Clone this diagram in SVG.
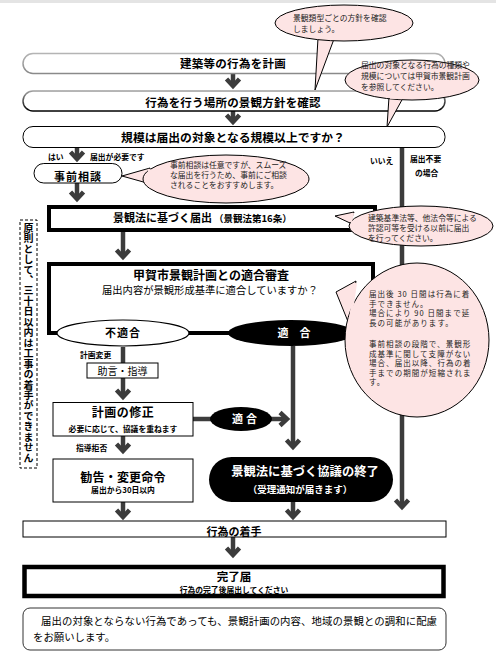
<svg xmlns="http://www.w3.org/2000/svg" width="496" height="655" viewBox="0 0 496 655">
<defs>
<style>
text{font-family:"Noto Sans CJK JP","Liberation Sans",sans-serif;fill:#000}
.b{font-weight:700}
.call{fill:#fde4e4;stroke:#000;stroke-width:1}
.ct{font-size:7.8px;fill:#222}
.cp{font-size:7.5px;fill:#222;letter-spacing:1.05px}
.sm{font-size:7.8px;font-weight:700}
.ln{stroke:#3c3c3c;stroke-width:4.5;fill:none}
.arr{stroke:#3c3c3c;stroke-width:4.5;fill:none;marker-end:url(#ah)}
.box{fill:#fff;stroke:#000;stroke-width:1}
.thick{fill:#fff;stroke:#000;stroke-width:4}
.w{fill:#fff}
.c{text-anchor:middle}
</style>
<linearGradient id="g1" x1="0" y1="0" x2="0" y2="1"><stop offset="0" stop-color="#b4b4b4"/><stop offset="1" stop-color="#8a8a8a"/></linearGradient>
<linearGradient id="g2" x1="0" y1="0" x2="0" y2="1"><stop offset="0" stop-color="#a0a0a0"/><stop offset="1" stop-color="#000"/></linearGradient>
<marker id="ah" markerUnits="userSpaceOnUse" markerWidth="18" markerHeight="18" viewBox="-9 -9 18 18" refX="0" refY="0" orient="auto">
<path d="M-7,-6.5 L0,0 L-7,6.5" fill="none" stroke="#3c3c3c" stroke-width="4.5" stroke-linejoin="miter"/>
</marker>
</defs>
<rect x="0" y="0" width="496" height="3" fill="#e4e4e4"/>

<g id="connectors">
<line class="arr" x1="233" y1="74" x2="233" y2="86"/>
<line class="arr" x1="233" y1="111" x2="233" y2="122"/>
<line class="arr" x1="77" y1="148" x2="77" y2="159"/>
<line class="arr" x1="77" y1="183" x2="77" y2="199"/>
<line class="arr" x1="123" y1="232" x2="123" y2="257"/>
<line class="arr" x1="123" y1="347" x2="123" y2="397"/>
<line class="arr" x1="123" y1="436" x2="123" y2="451"/>
<line class="arr" x1="123" y1="502" x2="123" y2="517"/>
<line class="arr" x1="293" y1="346" x2="293" y2="447"/>
<line class="ln" x1="193" y1="419" x2="212" y2="419"/>
<line class="arr" x1="270" y1="419" x2="287" y2="419"/>
<line class="arr" x1="293" y1="502" x2="293" y2="517"/>
<line class="arr" x1="402" y1="147" x2="402" y2="507"/>
<line class="arr" x1="233" y1="537" x2="233" y2="555"/>
</g>

<g id="n-plan">
<rect x="23" y="53.5" width="422" height="20" rx="10" fill="#fff" stroke="url(#g1)" stroke-width="1.5"/>
<text class="b c" x="233" y="67.5" font-size="11.5" letter-spacing="0.3">建築等の行為を計画</text>
</g>
<g id="n-policy">
<rect x="23" y="91" width="422" height="20" rx="10" fill="#fff" stroke="url(#g2)" stroke-width="1.5"/>
<text class="b c" x="233" y="107" font-size="11.5" letter-spacing="0.2">行為を行う場所の景観方針を確認</text>
</g>
<g id="n-scale">
<rect x="23" y="126.5" width="422" height="21" rx="10" class="box" stroke-width="1.2"/>
<text class="b c" x="233" y="141.5" font-size="11.8">規模は届出の対象となる規模以上ですか？</text>
</g>

<g id="c-type">
<path class="call" d="M318,38 L315,90 L334,39 Z"/>
<ellipse class="call" cx="344" cy="23" rx="69" ry="18"/>
<path d="M319,37 L333,38" stroke="#fde4e4" stroke-width="2.5"/>
<text class="ct" x="293" y="20.5" font-size="8.5px">景観類型ごとの方針を確認</text>
<text class="ct" x="293" y="31.5" font-size="8.5px">しましょう。</text>
</g>

<g id="c-target">
<path class="call" d="M389,97 L387,127 L403,98 Z"/>
<ellipse class="call" cx="412" cy="80" rx="67" ry="20"/>
<path d="M390,97.5 L402,98" stroke="#fde4e4" stroke-width="2.5"/>
<text class="ct" x="361" y="68">届出の対象となる行為の種類や</text>
<text class="ct" x="361" y="79">規模については甲賀市景観計画</text>
<text class="ct" x="361" y="90">を参照してください。</text>
</g>

<g id="l-yes">
<text class="sm" x="48" y="160" font-size="7.5px">はい</text>
<text class="sm" x="90" y="160">届出が必要です</text>
</g>
<g id="l-no">
<text class="sm" x="370" y="163.5" font-size="7.5px">いいえ</text>
<text class="sm" x="410" y="162">届出不要</text>
<text class="sm" x="415" y="175.5">の場合</text>
</g>

<g id="n-consult">
<rect x="34" y="163.5" width="88" height="19.5" rx="9.75" class="box"/>
<text class="b c" x="78" y="181" font-size="11" letter-spacing="1">事前相談</text>
</g>
<g id="c-consult">
<path class="call" d="M150,168 L122,176 L147,183 Z"/>
<ellipse class="call" cx="226" cy="179" rx="83" ry="24"/>
<path d="M149.5,169 L147.5,182" stroke="#fde4e4" stroke-width="2.5"/>
<text class="ct" x="170" y="168">事前相談は任意ですが、スムーズ</text>
<text class="ct" x="170" y="178">な届出を行うため、事前にご相談</text>
<text class="ct" x="170" y="188">されることをおすすめします。</text>
</g>

<g id="n-notify">
<rect x="49" y="207" width="326" height="23" class="thick"/>
<text x="113" y="222" font-size="11" class="b">景観法に基づく届出<tspan font-size="9.5" dx="2">（景観法第16条）</tspan></text>
</g>
<g id="c-permit">
<path class="call" d="M354,212 L335,216 L350,223 Z"/>
<ellipse class="call" cx="421" cy="226" rx="72" ry="20"/>
<path d="M353,213 L350.5,222" stroke="#fde4e4" stroke-width="2.5"/>
<text class="ct" x="368" y="221">建築基準法等、他法令等による</text>
<text class="ct" x="368" y="231">許認可等を受ける以前に届出</text>
<text class="ct" x="368" y="241">を行ってください。</text>
</g>

<g id="n-review">
<rect x="49" y="264" width="324" height="69" class="thick"/>
<text class="b c" x="211" y="279.5" font-size="12">甲賀市景観計画との適合審査</text>
<text class="c" x="210" y="294" font-size="10.3">届出内容が景観形成基準に適合していますか？</text>
</g>
<g id="n-ng">
<ellipse cx="123" cy="333" rx="66" ry="13" fill="#fff" stroke="#000" stroke-width="1.2"/>
<text class="b c" x="123" y="337" font-size="11" letter-spacing="1">不適合</text>
</g>
<g id="n-ok">
<ellipse cx="291" cy="333" rx="63" ry="13" fill="#000"/>
<text class="b c w" x="294" y="337" font-size="11">適　合</text>
</g>

<g id="c-period">
<path class="call" d="M356,281 L336,292 L349,324 Z"/>
<ellipse class="call" cx="417" cy="340" rx="72" ry="77"/>
<path d="M355.5,283 L350,322" stroke="#fde4e4" stroke-width="3"/>
<text class="cp" x="369" y="297">届出後 30 日間は行為に着</text>
<text class="cp" x="369" y="306.5">手できません。</text>
<text class="cp" x="369" y="316">場合により 90 日間まで延</text>
<text class="cp" x="369" y="325.5">長の可能があります。</text>
<text class="cp" x="369" y="347">事前相談の段階で、景観形</text>
<text class="cp" x="369" y="356.5">成基準に関して支障がない</text>
<text class="cp" x="369" y="366">場合、届出以降、行為の着</text>
<text class="cp" x="369" y="375.5">手までの期間が短縮されま</text>
<text class="cp" x="369" y="385">す。</text>
</g>

<g id="l-change">
<text class="sm" x="80" y="358">計画変更</text>
</g>
<g id="n-advice">
<rect x="87" y="363" width="71" height="15" class="box"/>
<text class="c" x="122.5" y="374.5" font-size="10">助言・指導</text>
</g>

<g id="n-revise">
<rect x="53" y="402.5" width="140" height="33.5" class="box"/>
<text class="b c" x="123" y="417" font-size="12" letter-spacing="0.5">計画の修正</text>
<text class="c b" x="123" y="432" font-size="7.8">必要に応じて、協議を重ねます</text>
</g>
<g id="n-ok2">
<ellipse cx="241" cy="419" rx="31" ry="12" fill="#000"/>
<text class="b c w" x="246" y="423" font-size="11" letter-spacing="3">適合</text>
</g>
<g id="l-refuse">
<text class="sm" x="76" y="450.5">指導拒否</text>
</g>
<g id="n-order">
<rect x="53" y="459" width="140" height="43" class="box"/>
<text class="b c" x="123" y="481.5" font-size="12" letter-spacing="0.2">勧告・変更命令</text>
<text class="c b" x="123" y="493" font-size="7.8">届出から30日以内</text>
</g>

<g id="n-end">
<rect x="209" y="457" width="184" height="45" rx="22.5" fill="#000"/>
<text class="b c w" x="305" y="476" font-size="12.3">景観法に基づく協議の終了</text>
<text class="b c w" x="300" y="492.5" font-size="9.5">（受理通知が届きます）</text>
</g>

<g id="n-note-vert">
<rect x="20" y="220" width="17" height="248" fill="#fff" stroke="#000" stroke-width="1" stroke-dasharray="3,2"/>
<text class="b" x="28.5" y="223" font-size="10" letter-spacing="0.45" style="writing-mode:vertical-rl">原則として、三十日以内は工事の着手ができません</text>
</g>

<g id="n-start">
<rect x="23" y="521" width="423" height="16" class="box"/>
<text class="b c" x="234" y="535.5" font-size="11">行為の着手</text>
</g>
<g id="n-complete">
<rect x="24.5" y="567" width="419" height="29" fill="#fff" stroke="#000" stroke-width="4.5"/>
<text class="b c" x="234" y="581" font-size="11.5">完了届</text>
<text class="b c" x="234" y="593" font-size="7.8">行為の完了後届出してください</text>
</g>
<g id="n-remark">
<rect x="23" y="608" width="423" height="42" rx="7" fill="#fff" stroke="#333" stroke-width="1"/>
<text x="41" y="625" font-size="10.4" fill="#222" textLength="396" lengthAdjust="spacing">届出の対象とならない行為であっても、景観計画の内容、地域の景観との調和に配慮</text>
<text x="33" y="640.5" font-size="10.4" fill="#222">をお願いします。</text>
</g>
</svg>
